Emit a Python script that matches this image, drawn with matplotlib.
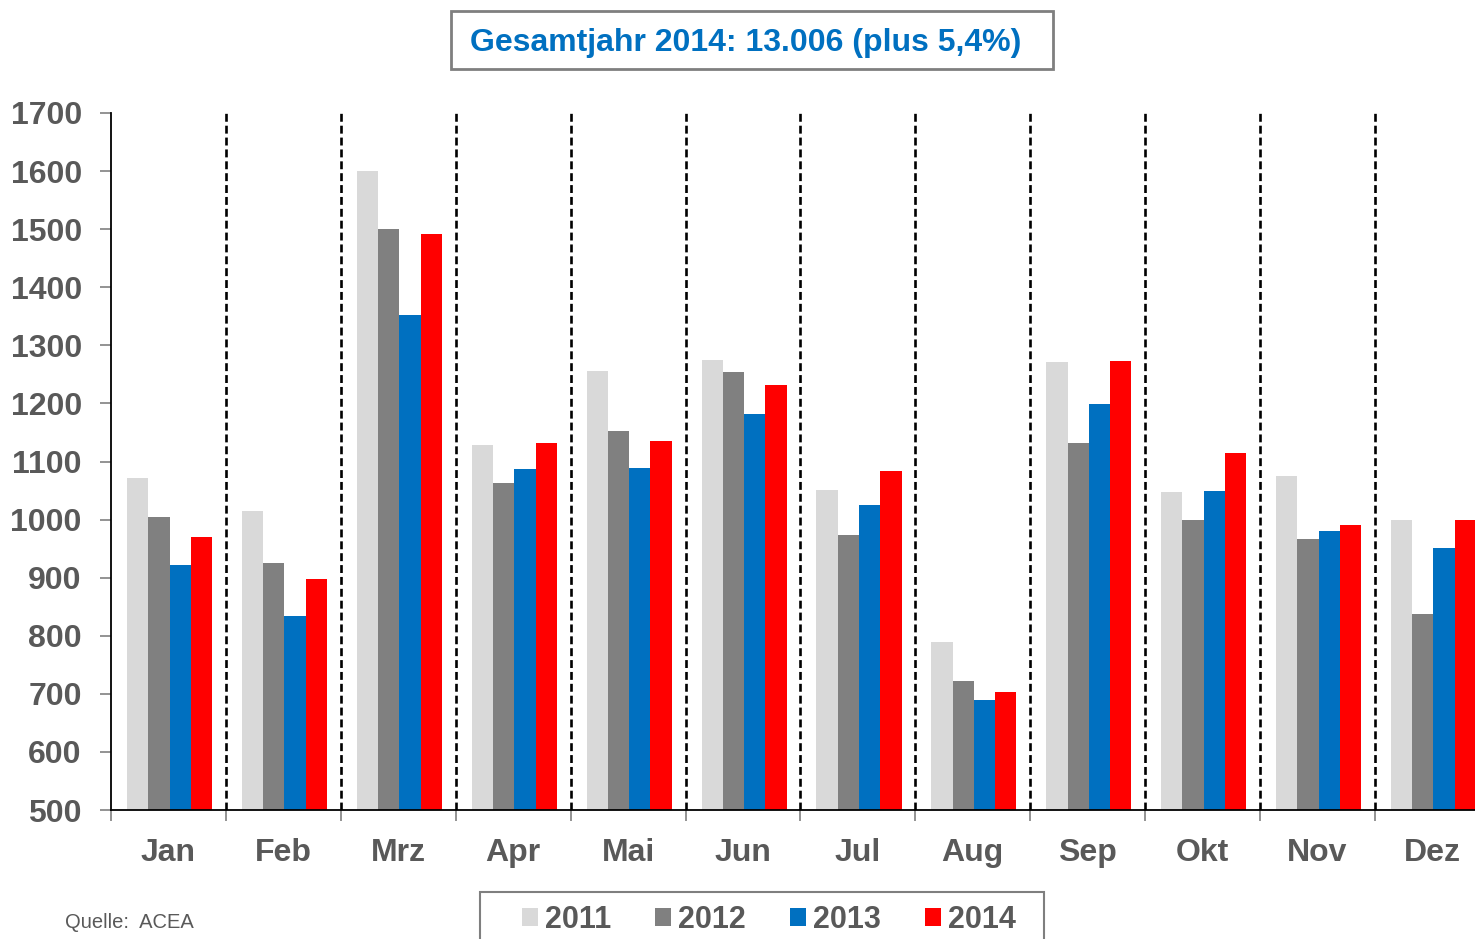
import numpy as np
import matplotlib.pyplot as plt
from matplotlib.patches import Rectangle, Patch

months = ['Jan', 'Feb', 'Mrz', 'Apr', 'Mai', 'Jun', 'Jul', 'Aug', 'Sep', 'Okt', 'Nov', 'Dez']
years = ['2011', '2012', '2013', '2014']
v2011 = [1071, 1014, 1601, 1128, 1256, 1275, 1051, 789, 1271, 1047, 1075, 999]
v2012 = [1004, 925, 1500, 1063, 1152, 1254, 973, 722, 1132, 999, 966, 838]
v2013 = [922, 834, 1352, 1087, 1089, 1182, 1025, 690, 1199, 1049, 981, 951]
v2014 = [970, 897, 1491, 1132, 1135, 1231, 1083, 703, 1273, 1114, 991, 1000]
colors = ['#d9d9d9', '#808080', '#0070c0', '#ff0000']

title = 'Gesamtjahr 2014: 13.006 (plus 5,4%)'
source = 'Quelle:  ACEA'

plt.rcParams['font.family'] = ['Liberation Sans', 'DejaVu Sans']
txt = '#595959'

fig = plt.figure(figsize=(14.75, 9.39), dpi=100)
W, H = 1475, 939
ax = fig.add_axes([111 / W, (H - 810) / H, 12 * 114.9 / W, (810 - 113) / H])

x = np.arange(len(months))
bw = 0.185
for i, vals in enumerate([v2011, v2012, v2013, v2014]):
    ax.bar(x + 0.14 + i * bw, np.array(vals) - 500, bottom=500, width=bw,
           align='edge', color=colors[i], edgecolor='none', zorder=2)

for k in range(1, 12):
    ax.axvline(k, color='black', linestyle=(0, (3, 1.5)), linewidth=1.9, zorder=3)

ax.set_xlim(0, 12)
ax.set_ylim(500, 1700)
ax.set_yticks(np.arange(500, 1701, 100))
ax.set_xticks(np.arange(0, 13))
ax.set_xticklabels([])
ax.set_xticks(x + 0.5, minor=True)
ax.set_xticklabels(months, minor=True)
ax.tick_params(axis='x', which='minor', length=0, pad=20, labelsize=23,
               labelcolor=txt)
ax.tick_params(axis='x', which='major', length=8, color='#808080', width=1.2)
ax.tick_params(axis='y', length=8, color='#808080', width=1.2, pad=13,
               labelsize=23, labelcolor=txt)
for lab in ax.get_yticklabels() + ax.get_xticklabels(minor=True):
    lab.set_fontweight('bold')
for s in ['top', 'right']:
    ax.spines[s].set_visible(False)
for s in ['left', 'bottom']:
    ax.spines[s].set_color('black')
    ax.spines[s].set_linewidth(1.3)

# title box
fig.patches.append(Rectangle((451 / W, 1 - 69 / H), 602 / W, 58 / H,
                             transform=fig.transFigure, fill=False,
                             edgecolor='#7f7f7f', linewidth=2))
fig.text(746 / W, 1 - 43 / H, title, ha='center', va='center', fontsize=23,
         fontweight='bold', color='#0070c0')

# legend box
fig.patches.append(Rectangle((480 / W, 1 - 950 / H), 564 / W, 58 / H,
                             transform=fig.transFigure, fill=False,
                             edgecolor='#7f7f7f', linewidth=1.5))
handles = [Patch(facecolor=c, edgecolor='none') for c in colors]
leg = fig.legend(handles, years, loc='center', ncol=4,
                 bbox_to_anchor=(769 / W, 1 - 920 / H), frameon=False,
                 fontsize=22, handlelength=0.52, handleheight=0.52,
                 handletextpad=0.23, columnspacing=1.45, borderpad=0,
                 borderaxespad=0)
for t in leg.get_texts():
    t.set_color(txt)
    t.set_fontweight('bold')

fig.text(65 / W, 1 - 923 / H, source, ha='left', va='center', fontsize=14.5,
         color=txt)

fig.savefig('out.png', dpi=100)
